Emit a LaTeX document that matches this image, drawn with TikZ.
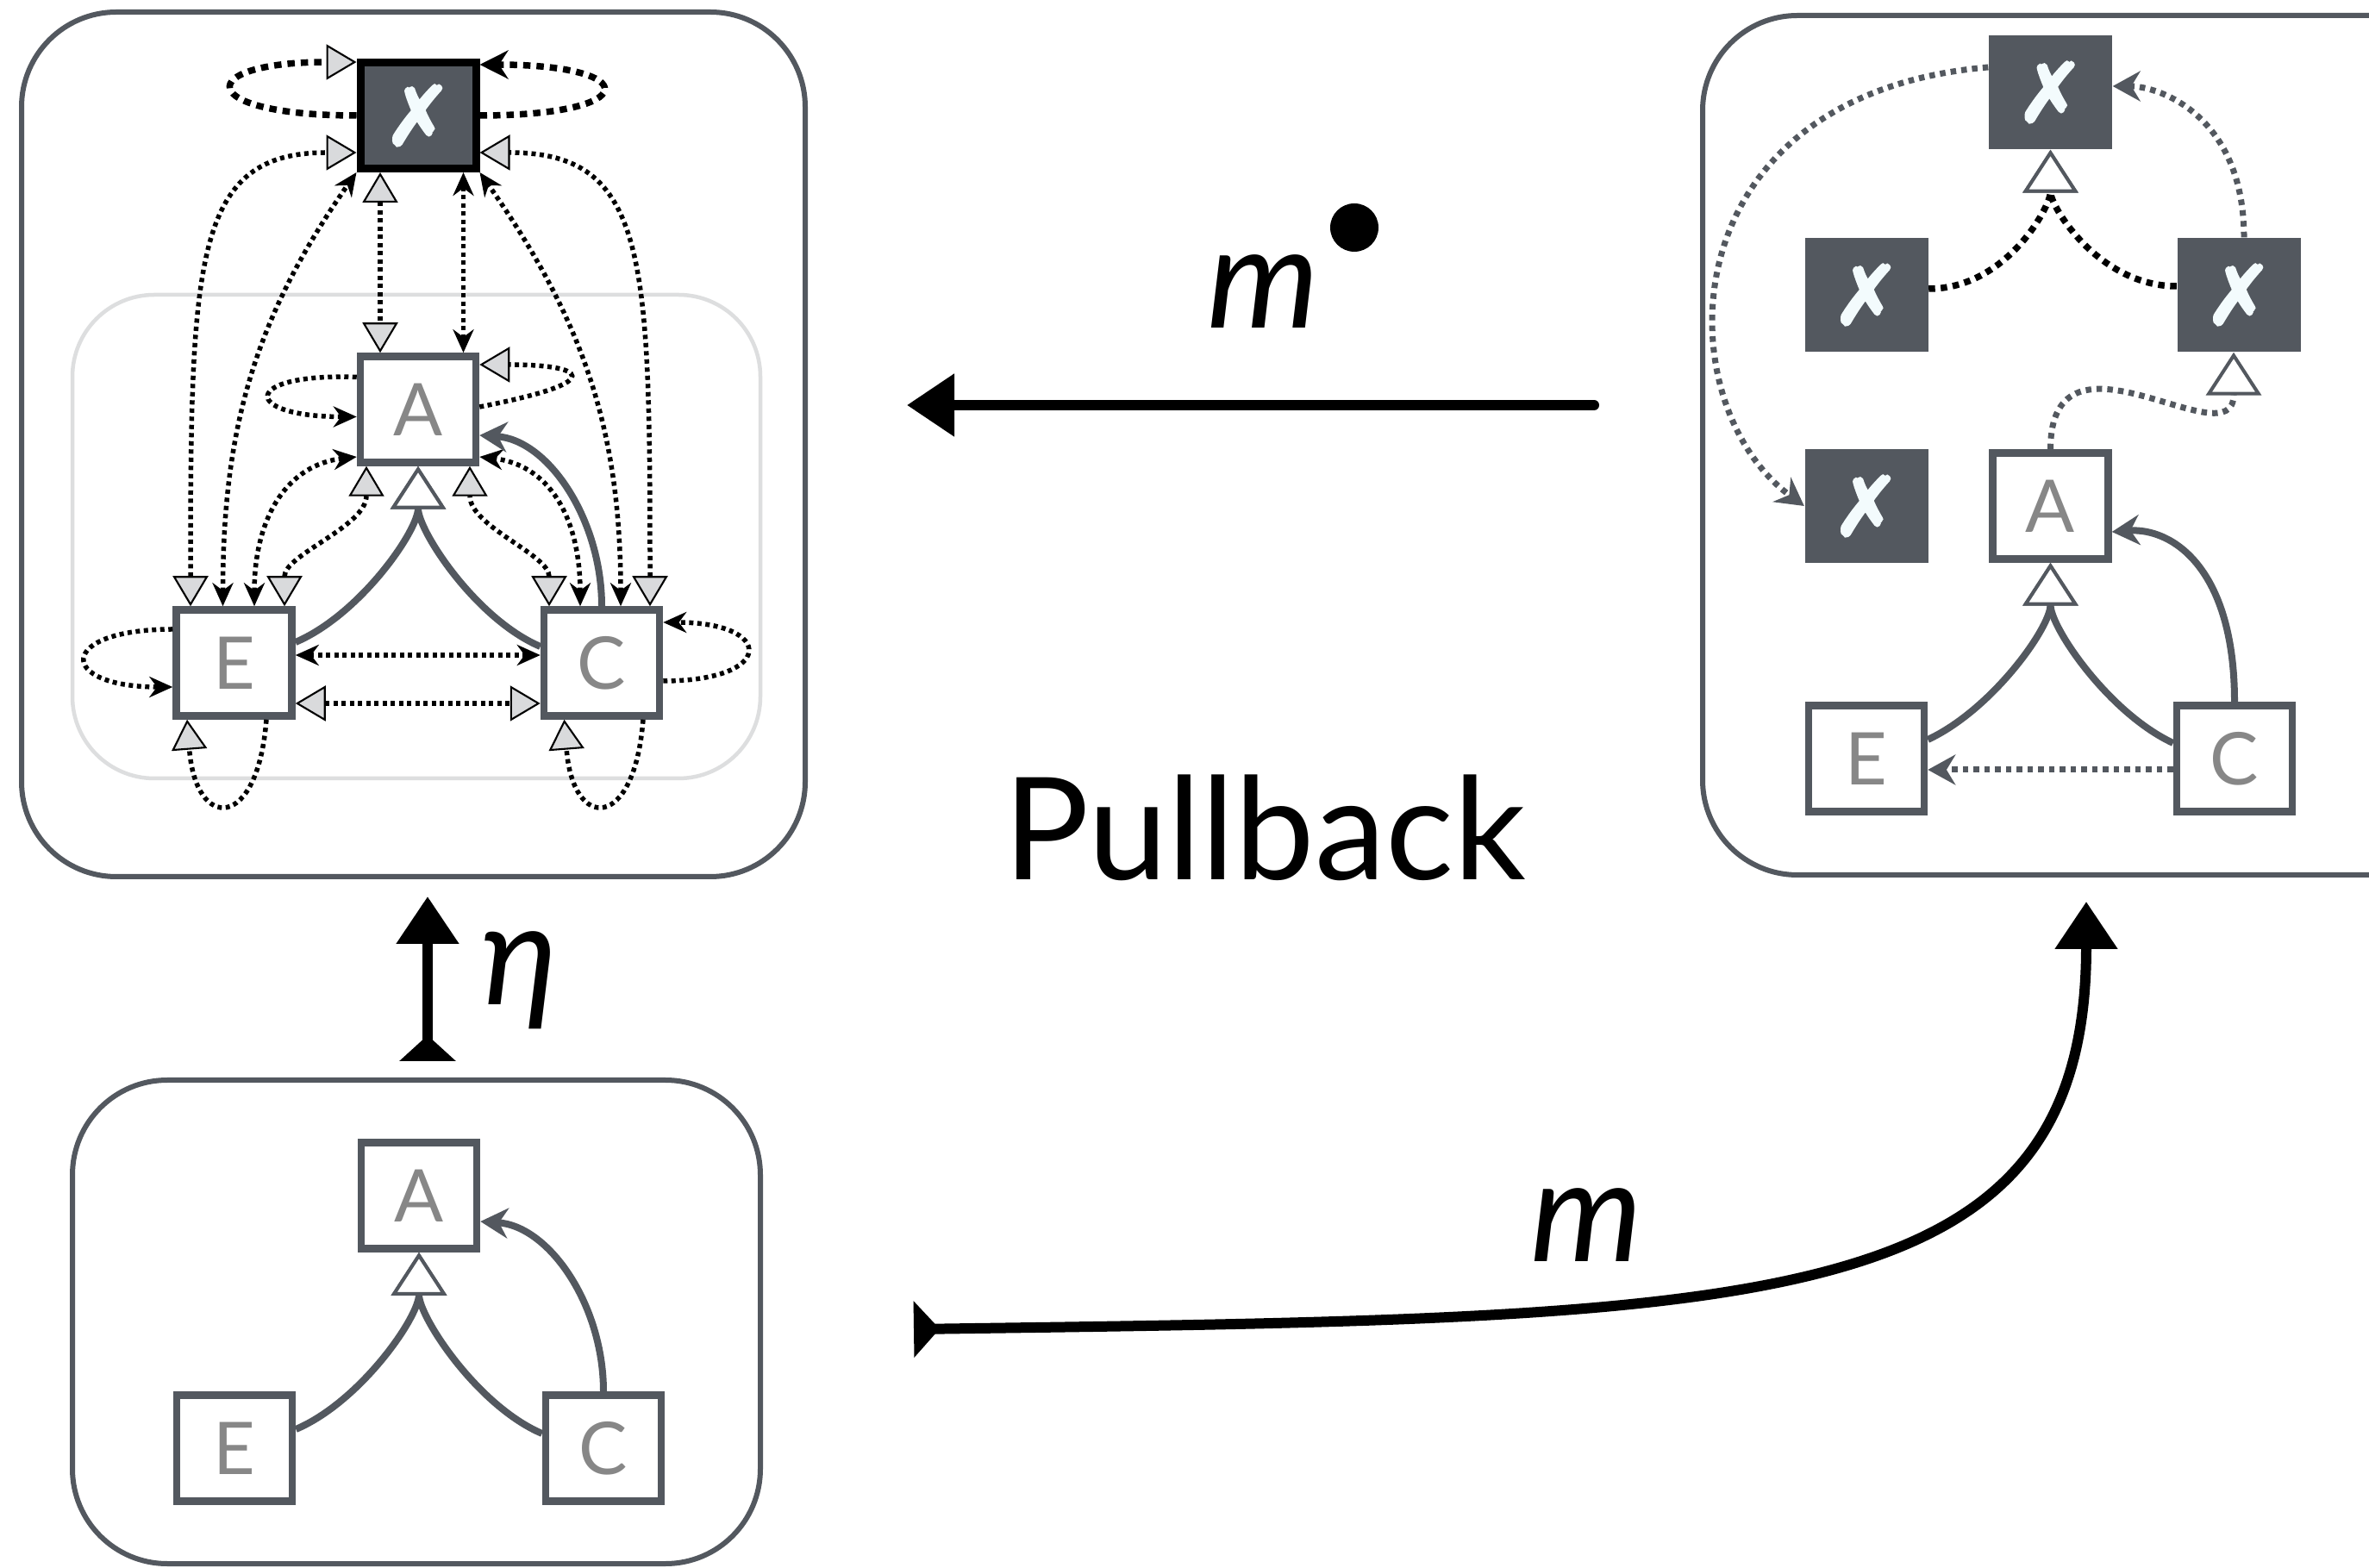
\documentclass[tikz,border=0pt]{standalone}
\usepackage{fontspec}
\setmainfont{Lato}
\newfontfamily\symfont[FakeBold=3]{DejaVu Sans}
\usetikzlibrary{arrows.meta}
\definecolor{slate}{HTML}{53585F}
\definecolor{lettergray}{HTML}{878787}
\definecolor{trifill}{HTML}{D9DADC}
\definecolor{framegray}{HTML}{DDDEDF}
\definecolor{crossw}{HTML}{F3FBFD}
\tikzset{
  blk/.tip={Stealth[length=0.27cm,width=0.24cm]},
  bigblk/.tip={Stealth[length=0.33cm,width=0.33cm]},
  gtri/.tip={Triangle[length=0.35cm,width=0.41cm,fill=trifill,color=black,line width=0.6pt]},
  hol/.tip={Triangle[length=0.5cm,width=0.64cm,fill=white,color=slate,line width=0.04cm]},
  gst/.tip={Stealth[length=0.32cm,width=0.35cm]},
  skh/.tip={Triangle[length=0.55cm,width=0.7cm]},
  skt/.tip={Triangle[reversed,length=0.3cm,width=0.64cm]},
  panel/.style={draw=slate,line width=0.06cm,rounded corners=1.1cm},
  innerpanel/.style={draw=framegray,line width=0.045cm,rounded corners=0.95cm},
  cls/.style={draw=slate,fill=white,line width=0.085cm,minimum width=1.34cm,minimum height=1.23cm,
    inner sep=0pt,text=lettergray,font=\fontsize{24}{24}\selectfont},
  xcls/.style={fill=slate,minimum width=1.43cm,minimum height=1.32cm,inner sep=0pt,
    text=crossw,font=\symfont\fontsize{27}{27}\selectfont},
  xclsb/.style={xcls,draw=black,line width=0.09cm,minimum width=1.34cm,minimum height=1.23cm},
  dots/.style={line width=0.055cm,dash pattern=on 0.05cm off 0.045cm},
  bigdots/.style={line width=0.075cm,dash pattern=on 0.085cm off 0.07cm},
  bdots/.style={line width=0.075cm,dash pattern=on 0.075cm off 0.065cm},
  gdots/.style={draw=slate,line width=0.07cm,dash pattern=on 0.065cm off 0.06cm},
  assoc/.style={draw=slate,line width=0.08cm},
  sketch/.style={line width=0.12cm,line cap=round},
  lbl/.style={font=\fontsize{47}{50}\selectfont\itshape},
}
\newcommand{\xmark}{\raisebox{-1.8mm}{✗}}
\begin{document}
\begin{tikzpicture}
\useasboundingbox (0,0) rectangle (27.48,18.18);
\clip (0,0) rectangle (27.48,18.18);
\fill[white] (0,0) rectangle (27.48,18.18);
\path
(18.49,13.48) coordinate (mdotS)
(10.52,13.48) coordinate (mdotE)
(4.96,5.87) coordinate (etaS)
(4.96,7.78) coordinate (etaE)
(10.60,2.76) coordinate (mS)
(24.20,7.72) coordinate (mE)
;
\draw[panel] (0.25,8.01) rectangle (9.34,18.04);
\draw[innerpanel] (0.84,9.15) rectangle (8.82,14.76);
\draw[panel] (0.84,0.04) rectangle (8.82,5.65);
\draw[panel] (19.75,8.03) rectangle (28.84,18.00);

\node[xclsb] (X) at (4.85,16.84) {\xmark};
\node[cls] (A) at (4.85,13.43) {A};
\node[cls] (E) at (2.715,10.49) {E};
\node[cls] (C) at (6.98,10.49) {C};

\node[cls] (A2) at (4.86,4.31) {A};
\node[cls] (E2) at (2.72,1.38) {E};
\node[cls] (C2) at (7.00,1.38) {C};

\node[xcls] (Xt) at (23.785,17.11) {\xmark};
\node[xcls] (Xl) at (21.65,14.76) {\xmark};
\node[xcls] (Xr) at (25.97,14.76) {\xmark};
\node[xcls] (Xb) at (21.65,12.31) {\xmark};
\node[cls] (A3) at (23.785,12.31) {A};
\node[cls] (E3) at (21.65,9.38) {E};
\node[cls] (C3) at (25.92,9.38) {C};

\draw[bigdots,-{gtri}] (X.west) .. controls +(-1.9,0) and +(-1.9,0) .. ([yshift=6.2mm]X.west);
\draw[bigdots,-{bigblk}] (X.east) .. controls +(1.9,0) and +(1.9,0) .. ([yshift=5.9mm]X.east);
\draw[dots,{gtri}-{gtri}] ([xshift=-5.05mm]E.north) .. controls +(0,4.04) and +(-1.88,0) .. ([yshift=-4.3mm]X.west);
\draw[dots,{gtri}-{gtri}] ([xshift=5.6mm]C.north) .. controls +(0,4.04) and +(1.95,0) .. ([yshift=-4.3mm]X.east);
\draw[dots,{blk}-{blk}] ([xshift=-1.3mm]E.north) to[out=90,in=235] (X.south west);
\draw[dots,{blk}-{blk}] ([xshift=2.2mm]C.north) to[out=90,in=-55] (X.south east);
\draw[dots,{gtri}-{gtri}] ([xshift=-4.4mm]X.south) -- ([xshift=-4.4mm]A.north);
\draw[dots,{blk}-{blk}] ([xshift=5.25mm]X.south) -- ([xshift=5.25mm]A.north);
\draw[dots,-{blk}] ([yshift=3.75mm]A.west) .. controls +(-1.35,0.05) and +(-1.35,0) .. ([yshift=-0.85mm]A.west);
\draw[dots,-{gtri}] ([yshift=0.3mm]A.east) .. controls +(1.55,0.3) and +(1.2,0) .. ([yshift=5.2mm]A.east);
\draw[dots,{blk}-{blk}] ([xshift=2.35mm]E.north) .. controls +(0,1.04) and +(-0.8,-0.09) .. ([yshift=-5.5mm]A.west);
\draw[dots,{gtri}-{gtri}] ([xshift=5.85mm]E.north) .. controls +(0,0.6) and +(0,-0.7) .. ([xshift=-6mm]A.south);
\draw[dots,{blk}-{blk}] ([xshift=-2.5mm]C.north) .. controls +(0,1.04) and +(0.8,-0.09) .. ([yshift=-5.5mm]A.east);
\draw[dots,{gtri}-{gtri}] ([xshift=-6.1mm]C.north) .. controls +(0,0.6) and +(0,-0.7) .. ([xshift=6mm]A.south);
\draw[assoc,-{hol}] ([yshift=2.4mm]E.east) .. controls +(0.75,0.32) and +(0,-0.75) .. (A.south);
\draw[assoc,-{hol}] ([yshift=1.9mm]C.west) .. controls +(-0.75,0.32) and +(0,-0.75) .. (A.south);
\draw[assoc,-{gst}] (C.north) .. controls +(0,1.0) and +(0.8,-0.05) .. ([yshift=-3mm]A.east);
\draw[dots,{blk}-{blk}] ([yshift=0.9mm]E.east) -- ([yshift=0.9mm]C.west);
\draw[dots,{gtri}-{gtri}] ([yshift=-4.7mm]E.east) -- ([yshift=-4.7mm]C.west);
\draw[dots,-{blk}] ([yshift=3.9mm]E.west) .. controls +(-1.35,0) and +(-1.35,0) .. ([yshift=-2.8mm]E.west);
\draw[dots,-{gtri}] ([xshift=3.75mm]E.south) .. controls +(-0.1,-1.3) and +(0.1,-1.3) .. ([xshift=-5.45mm]E.south);
\draw[dots,-{blk}] ([yshift=-2.1mm]C.east) .. controls +(1.3,0) and +(1.3,0) .. ([yshift=4.7mm]C.east);
\draw[dots,-{gtri}] ([xshift=4.8mm]C.south) .. controls +(-0.1,-1.3) and +(0.1,-1.3) .. ([xshift=-4.35mm]C.south);

\draw[assoc,-{hol}] ([yshift=2.2mm]E2.east) .. controls +(0.75,0.32) and +(0,-0.75) .. (A2.south);
\draw[assoc,-{hol}] ([yshift=1.7mm]C2.west) .. controls +(-0.75,0.32) and +(0,-0.75) .. (A2.south);
\draw[assoc,-{gst}] (C2.north) .. controls +(0,1.0) and +(0.8,-0.05) .. ([yshift=-3mm]A2.east);

\draw[gdots,-{gst}] ([yshift=2.9mm]Xt.west) .. controls +(-3.76,-0.32) and +(-1.62,1.19) .. (Xb.west);
\draw[gdots,-{gst}] ([xshift=0.6mm]Xr.north) .. controls +(0,1.4) and +(0.55,0) .. ([yshift=0.7mm]Xt.east);
\draw[bdots,-{hol}] ([yshift=0.7mm]Xl.east) .. controls +(0.9,0) and +(0,-0.66) .. (Xt.south);
\draw[bdots,-{hol}] ([yshift=1mm]Xr.west) .. controls +(-0.9,0) and +(0,-0.66) .. (Xt.south);
\draw[gdots,-{hol}] (A3.north) .. controls +(0,1.6) and +(0,-1.28) .. ([xshift=-0.6mm]Xr.south);
\draw[assoc,-{hol}] ([yshift=2.2mm]E3.east) .. controls +(0.75,0.35) and +(0,-0.75) .. (A3.south);
\draw[assoc,-{hol}] ([yshift=1.8mm]C3.west) .. controls +(-0.75,0.35) and +(0,-0.75) .. (A3.south);
\draw[assoc,-{gst}] (C3.north) .. controls +(0,1.55) and +(0.7,0.05) .. ([yshift=-3mm]A3.east);
\draw[gdots,-{gst}] ([yshift=-1.3mm]C3.west) -- ([yshift=-1.3mm]E3.east);

\draw[sketch,-{skh}] (mdotS) -- (mdotE);
\draw[sketch,{skt}-{skh}] (etaS) -- (etaE);
\draw[sketch,{skt}-{skh}] (mS) .. controls +(9.9,0.14) and +(0,-4.82) .. (mE);

\node[lbl,anchor=base] (mtop) at (14.65,14.37) {m};
\fill ([shift={(1.06,1.17)}]mtop.base) circle (0.28);
\node[lbl,anchor=base] (mlow) at (18.40,3.55) {m};
\node[lbl,anchor=base] (eta) at (6.03,6.52) {η};
\node[font=\fontsize{47}{50}\selectfont,anchor=base] (pb) at (14.67,7.97) {Pullback};
\end{tikzpicture}
\end{document}
